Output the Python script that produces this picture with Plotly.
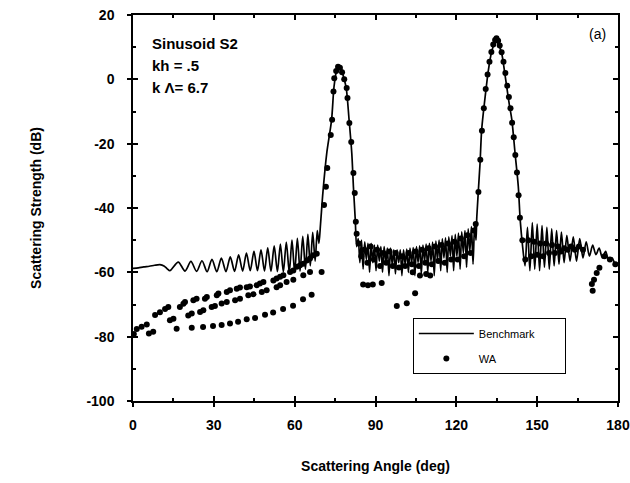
import plotly.graph_objects as go

# ---------------- data ----------------
bench_angle = [
    0, 2, 4, 6, 8, 10, 11.5, 12.7, 13.7,
    16.8, 19.3, 21.5, 23.6, 25.6, 27.5, 29.3, 31.1, 32.8, 34.5, 36.1, 37.7, 39.2, 40.7,
    42.1, 43.5, 44.9, 46.2, 47.5, 48.8, 50.0, 51.2, 52.4, 53.6, 54.7, 55.8, 56.9, 58.0,
    59.0, 60.0, 61.0, 62.0, 63.0, 64.0, 64.9, 65.8, 66.7, 67.6, 68.4, 69.0,
    69.6, 70.5, 71.9, 73.7, 74.6, 75.6, 76.4, 77.2, 78.0, 79.1, 80.2, 81.2, 81.8, 82.5, 83.0,
    83.6, 84.2, 84.8, 85.4, 86.0, 86.6, 87.2, 87.8, 88.4, 89.0, 89.6, 90.2, 90.8, 91.4,
    92.0, 92.6, 93.2, 93.8, 94.4, 95.0, 95.6, 96.2, 96.8, 97.4, 98.0, 98.6, 99.2, 99.8,
    100.4, 101.0, 101.6, 102.2, 102.8, 103.4, 104.0, 104.6, 105.2, 105.8, 106.4, 107.0,
    107.6, 108.2, 108.8, 109.4, 110.0, 110.6, 111.2, 111.8, 112.4, 113.0, 113.6, 114.2,
    114.8, 115.4, 116.0, 116.6, 117.2, 117.8, 118.4, 119.0, 119.6, 120.2, 120.8, 121.4,
    122.0, 122.6, 123.2, 123.8, 124.4, 125.0, 125.6, 126.2, 126.8, 127.3,
    127.6, 128.8, 129.4, 130.7, 131.9, 133.1, 134.0, 134.9, 135.8, 136.9, 137.8, 138.7,
    139.6, 140.6, 141.8, 143.0, 143.7,
    144.6, 145.5, 146.4, 147.3, 148.2, 149.1, 150.0, 150.9, 151.8, 152.7, 153.6, 154.5,
    155.4, 156.3, 157.2, 158.1, 159.0, 160.0, 161.0, 162.2, 163.4, 164.6, 165.8, 167.0,
    168.2, 169.4, 170.6, 171.8, 173.0, 174.2, 175.4, 176.6, 177.8, 179.0, 180.0,
]
bench_db = [
    -58.8, -58.6, -58.3, -58.1, -57.8, -57.6, -58.0, -58.9, -59.5,
    -56.8, -59.6, -56.6, -59.7, -56.4, -59.8, -56.0, -59.8, -55.6, -59.8, -55.2, -59.7, -54.6, -59.6,
    -54.0, -59.5, -53.5, -59.5, -53.0, -59.6, -52.4, -59.7, -51.8, -59.8, -51.2, -59.9, -50.6, -60.0,
    -50.0, -60.0, -49.4, -59.6, -48.8, -59.0, -48.2, -58.0, -47.6, -56.5, -47.0, -51.0,
    -45.0, -35.0, -23.0, -12.6, -2.3, 2.8, 3.8, 3.4, 1.2, -2.5, -12.6, -23.0, -33.4, -43.8, -52.0,
    -49.5, -57.0, -50.0, -59.0, -50.5, -56.0, -51.0, -60.0, -51.0, -57.0, -51.5, -59.5, -51.5, -56.5,
    -52.0, -60.0, -52.0, -57.0, -52.5, -61.0, -52.5, -57.5, -53.0, -60.5, -53.0, -57.0, -53.0, -61.0,
    -53.0, -57.5, -52.8, -60.0, -52.5, -57.0, -52.3, -61.0, -52.0, -57.0, -51.8, -60.5,
    -51.5, -56.5, -51.2, -60.0, -51.0, -56.5, -50.6, -61.0, -50.3, -56.0, -50.0, -59.5,
    -49.6, -55.5, -49.3, -60.0, -49.0, -55.0, -48.6, -59.5, -48.2, -55.0, -47.8, -59.0,
    -47.4, -54.0, -47.0, -58.5, -46.5, -53.5, -45.8, -57.5, -45.0, -50.0,
    -42.7, -26.1, -15.7, -5.4, 2.9, 8.6, 10.8, 11.6, 10.6, 7.8, 3.0, -2.3,
    -7.5, -12.6, -23.0, -33.4, -43.7,
    -52.0, -58.0, -46.0, -59.5, -44.5, -59.0, -45.0, -59.5, -45.5, -58.5, -46.0, -59.0,
    -46.5, -58.0, -47.0, -57.5, -47.5, -57.0, -48.5, -56.5, -49.0, -56.5, -49.5, -55.5,
    -50.5, -55.0, -51.5, -54.5, -52.5, -55.5, -53.5, -56.5, -55.5, -57.5, -57.0,
]

wa_angle = [
    0.3, 1.4, 3.2, 5.1, 5.9, 7.5, 8.2, 10.0, 11.9, 13.1, 13.7, 15.0, 16.2, 17.4, 18.7, 19.3,
    20.5, 21.8, 21.8, 22.4, 23.6, 24.9, 26.0, 26.1, 26.7, 27.4, 29.2, 29.7, 30.4, 31.1, 31.7,
    32.9, 32.9, 34.8, 34.8, 36.0, 36.0, 37.9, 38.5, 39.0, 39.7, 39.7, 42.2, 42.2, 42.8, 43.4,
    44.7, 45.3, 45.9, 47.1, 47.8, 48.4, 49.0, 49.6, 52.0, 52.1, 53.3, 53.3, 54.6, 54.6, 55.7,
    55.8, 57.0, 58.3, 59.4, 59.5, 59.5, 60.8, 62.0, 63.1, 63.2, 63.2, 64.5, 65.7, 65.7, 66.3,
    66.9, 68.2, 70.0,
    70.9, 71.6, 72.1, 73.4, 73.9, 74.4, 74.7, 75.4, 76.1, 76.8, 77.6, 78.4, 79.3, 79.6, 80.3,
    81.0, 81.8, 82.3, 82.7, 83.0,
    83.8, 84.7, 85.4, 85.9, 87.0, 87.2, 88.2, 89.0, 89.4, 90.6, 91.7, 92.3, 92.9, 94.0, 95.2,
    96.4, 97.5, 97.9, 98.7, 99.9, 101.0, 101.6, 102.3, 103.5, 103.8, 104.7, 104.9, 106.1,
    106.5, 107.3, 108.5, 108.8, 109.7, 110.3, 110.9, 112.1, 113.3, 114.5, 115.7, 116.9,
    118.1, 119.3, 120.5, 121.7, 122.9, 124.1, 125.3, 126.5, 127.2,
    128.2, 128.9, 129.5, 130.2, 130.9, 131.6, 132.3, 133.0, 133.7, 134.4, 134.9, 135.5,
    136.1, 136.8, 137.5, 138.2, 138.9, 139.5, 140.1, 140.7, 141.3, 141.9, 142.5, 143.1, 143.6,
    144.5, 145.6, 146.7, 147.8, 148.9, 150.0, 151.1, 152.2, 153.3, 154.4, 155.5, 156.6,
    157.7, 158.8, 160.0, 161.3, 162.6, 164.0, 165.5, 167.0, 170.3, 170.6, 171.1, 172.1,
    173.1, 175.0, 177.0, 179.0,
]
wa_db = [
    -79.2, -77.6, -76.9, -76.2, -79.0, -78.5, -73.3, -72.4, -71.4, -70.8, -74.9, -74.4, -77.5, -70.8, -69.8, -69.2,
    -73.4, -72.8, -77.2, -68.7, -68.2, -72.3, -77.0, -71.8, -68.2, -67.7, -70.8, -76.7, -70.5, -67.1, -66.6,
    -69.7, -76.4, -69.2, -66.1, -65.6, -75.9, -68.7, -65.1, -75.4, -64.7, -68.2, -64.6, -74.6, -67.1, -64.4,
    -66.8, -74.2, -64.0, -63.5, -66.1, -63.0, -73.2, -65.6, -72.5, -62.5, -61.9, -64.6, -61.4, -64.0, -71.4,
    -60.9, -63.0, -59.9, -70.4, -59.4, -62.3, -58.3, -57.8, -68.4, -57.3, -60.9, -56.3, -55.7, -59.9, -67.0,
    -54.7, -54.2, -59.9,
    -39.1, -33.4, -27.6, -17.3, -12.6, -3.8, 0.3, 2.6, 3.9, 3.6, 2.2, 0.0, -2.7, -5.8, -13.6,
    -19.5, -29.1, -35.3, -44.3, -48.0,
    -51.0, -55.0, -63.8, -53.0, -57.0, -64.0, -52.0, -63.8, -56.0, -53.0, -58.0, -63.3, -54.0, -57.0, -53.5,
    -58.0, -54.0, -70.5, -58.5, -55.0, -58.0, -69.6, -54.0, -57.5, -60.0, -66.5, -53.5, -58.0,
    -61.0, -53.0, -57.0, -60.5, -52.5, -61.0, -57.5, -52.0, -56.5, -51.5, -57.0, -51.0,
    -56.0, -50.5, -56.0, -49.5, -55.0, -48.5, -54.0, -47.0, -45.0,
    -35.0, -25.0, -16.0, -9.0, -3.0, 1.5, 5.5, 8.5, 10.8, 12.2, 12.8, 12.0,
    10.5, 8.4, 5.5, 2.0, -2.0, -5.5, -9.0, -13.5, -18.0, -23.5, -29.0, -36.0, -43.0,
    -50.0, -56.0, -50.0, -55.0, -50.5, -54.5, -51.0, -55.0, -51.0, -54.0, -51.5, -54.0,
    -52.0, -53.5, -52.5, -53.0, -52.0, -53.0, -52.0, -53.0, -63.6, -65.7, -62.3, -60.2,
    -58.6, -55.0, -56.0, -57.5,
]

x_ticks = [0, 30, 60, 90, 120, 150, 180]
x_tick_text = ["0", "30", "60", "90", "120", "150", "180"]
y_ticks = [20, 0, -20, -40, -60, -80, -100]
y_tick_text = ["20", "0", "-20", "-40", "-60", "-80", "-100"]

FONT = "Liberation Sans, Arial, sans-serif"

fig = go.Figure()
fig.add_trace(go.Scatter(
    x=bench_angle, y=bench_db, mode="lines",
    name="Benchmark\u00a0\u00a0\u00a0\u00a0\u00a0\u00a0\u00a0\u00a0",
    line=dict(color="black", width=1.7, shape="spline", smoothing=0.8),
    legendgroup="b",
))
fig.add_trace(go.Scatter(
    x=wa_angle, y=wa_db, mode="markers", name="WA",
    marker=dict(color="black", size=6), legendgroup="w",
))
# carrier for the inner-tick overlay axes
fig.add_trace(go.Scatter(x=[None], y=[None], xaxis="x2", yaxis="y2",
                         mode="markers", showlegend=False, hoverinfo="skip"))

axis_common = dict(showgrid=False, zeroline=False, showline=True,
                   linecolor="black", linewidth=1.5, automargin=False)

fig.update_layout(
    width=630, height=483,
    margin=dict(l=133, r=12, t=15, b=82),
    paper_bgcolor="white", plot_bgcolor="white",
    font=dict(family=FONT, color="black"),
    xaxis=dict(
        range=[0, 180], tickvals=x_ticks, ticktext=x_tick_text,
        ticks="outside", ticklen=4,
        tickcolor="black", tickwidth=1.5, ticklabelstandoff=6,
        tickfont=dict(size=14, weight="bold"),
        title=dict(text="Scattering Angle (deg)", standoff=30,
                   font=dict(size=14, weight="bold")),
        **axis_common,
    ),
    yaxis=dict(
        range=[-100, 20], tickvals=y_ticks, ticktext=y_tick_text,
        ticks="outside", ticklen=4,
        tickcolor="black", tickwidth=1.5, ticklabelstandoff=10,
        tickfont=dict(size=14, weight="bold"),
        title=dict(text="Scattering Strength (dB)", standoff=42,
                   font=dict(size=14, weight="bold")),
        **axis_common,
    ),
    xaxis2=dict(
        overlaying="x", anchor="y2", side="bottom", range=[0, 180],
        tickvals=x_ticks, ticks="inside", ticklen=5, tickwidth=1.5,
        tickcolor="black", showticklabels=False, mirror="allticks",
        minor=dict(dtick=15, tick0=0, ticks="inside", ticklen=3, tickcolor="black"),
        **axis_common,
    ),
    yaxis2=dict(
        overlaying="y", anchor="x2", side="left", range=[-100, 20],
        tickvals=y_ticks, ticks="inside", ticklen=5, tickwidth=1.5,
        tickcolor="black", showticklabels=False, mirror="allticks",
        minor=dict(dtick=10, tick0=0, ticks="inside", ticklen=3, tickcolor="black"),
        **axis_common,
    ),
    showlegend=True,
    legend=dict(
        x=0.577, y=0.215, xanchor="left", yanchor="top",
        bordercolor="black", borderwidth=1, bgcolor="white",
        font=dict(size=11, family=FONT), tracegroupgap=6,
        itemwidth=55,
    ),
)

notes = [("Sinusoid S2", 0.927), ("kh = .5", 0.868), ("k \u039b= 6.7", 0.811)]
for txt, yy in notes:
    fig.add_annotation(xref="paper", yref="paper", x=0.035, y=yy, text=txt,
                       showarrow=False, xanchor="left", yanchor="middle",
                       font=dict(size=15, weight="bold", family=FONT))
fig.add_annotation(xref="paper", yref="paper", x=0.957, y=0.951, text="(a)",
                   showarrow=False, xanchor="center", yanchor="middle",
                   font=dict(size=14, family=FONT))

# remove the default page margin so the 630x483 figure fills the window
fig.write_html("out.html",
               config={"displayModeBar": False},
               post_script="document.body.style.margin='0px';")
